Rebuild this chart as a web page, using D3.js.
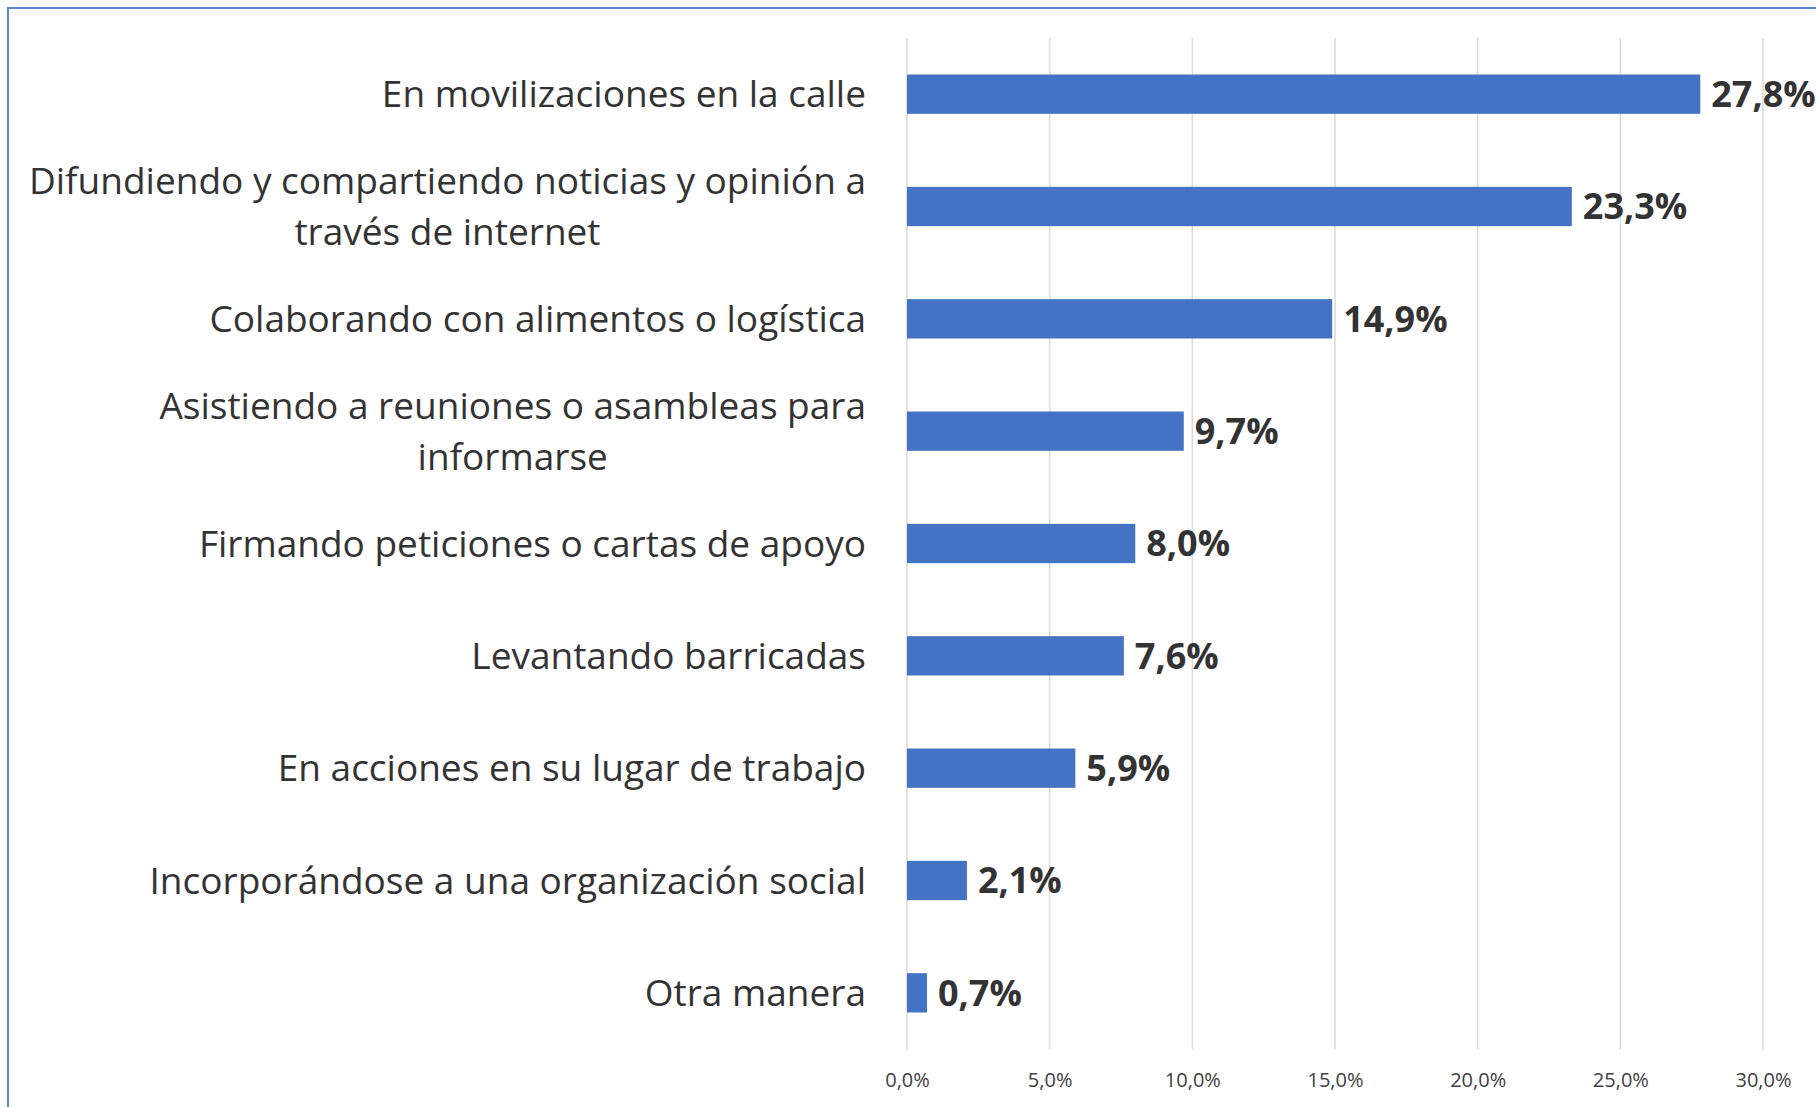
<!DOCTYPE html>
<html>
<head>
<meta charset="utf-8">
<script src="https://cdn.jsdelivr.net/npm/d3@7"></script>
<style>
  body { margin: 0; background: #fff; }
  svg { display: block; }
</style>
</head>
<body>
<div id="grafica"></div>
<script>
// datos del grafico
var categorias = [
    ["En movilizaciones en la calle"],
    ["Difundiendo y compartiendo noticias y opinión a", "través de internet"],
    ["Colaborando con alimentos o logística"],
    ["Asistiendo a reuniones o asambleas para", "informarse"],
    ["Firmando peticiones o cartas de apoyo"],
    ["Levantando barricadas"],
    ["En acciones en su lugar de trabajo"],
    ["Incorporándose a una organización social"],
    ["Otra manera"]
];
var valores = [27.8, 23.3, 14.9, 9.7, 8.0, 7.6, 5.9, 2.1, 0.7];
var ticks = [0, 5, 10, 15, 20, 25, 30];

var width = 1816,
    height = 1107;
var margin = { top: 38, right: 53, bottom: 58, left: 907 };

var svg = d3.select("#grafica")
    .append("svg")
    .attr("width", width)
    .attr("height", height);

// marco
svg.append("rect")
    .attr("x", 8)
    .attr("y", 8)
    .attr("width", width + 20)
    .attr("height", height + 20)
    .style("fill", "#fff")
    .style("stroke", "#5b8bd6")
    .style("stroke-width", 2);

var x = d3.scaleLinear()
    .domain([0, 30])
    .range([margin.left, width - margin.right]);

var y = d3.scaleBand()
    .domain(d3.range(valores.length))
    .range([margin.top, height - margin.bottom])
    .paddingInner(0.65)
    .paddingOuter(0.325);

var fmt = function(v) { return d3.format(".1f")(v).replace(".", ",") + "%"; };

// lineas de la grilla
svg.append("g")
    .selectAll("line")
    .data(ticks)
    .enter()
        .append("line")
        .attr("x1", function(d) { return x(d); })
        .attr("x2", function(d) { return x(d); })
        .attr("y1", margin.top)
        .attr("y2", height - margin.bottom)
        .style("stroke", "#d9d9d9")
        .style("stroke-width", 1.5);

// eje x
var eje = svg.append("g")
    .attr("transform", "translate(0," + (height - margin.bottom) + ")")
    .call(d3.axisBottom(x).tickValues(ticks).tickFormat(fmt).tickSize(0).tickPadding(24));
eje.select(".domain").remove();
eje.selectAll("text")
    .style("font-family", "'Open Sans', sans-serif")
    .style("font-size", "20px")
    .style("fill", "#404040");

// barras
svg.append("g")
    .selectAll("rect")
    .data(valores)
    .enter()
        .append("rect")
        .attr("x", x(0))
        .attr("y", function(d, i) { return y(i); })
        .attr("width", function(d) { return x(d) - x(0); })
        .attr("height", y.bandwidth())
        .style("fill", "#4472c4");

// etiquetas de valor
svg.append("g")
    .selectAll("text")
    .data(valores)
    .enter()
        .append("text")
        .attr("x", function(d) { return x(d) + 11; })
        .attr("y", function(d, i) { return y(i) + y.bandwidth() / 2; })
        .attr("dy", "0.36em")
        .text(fmt)
        .style("font-family", "'Open Sans', sans-serif")
        .style("font-weight", "bold")
        .style("font-size", "36px")
        .style("fill", "#333");

// etiquetas de categoria
var labelRight = 866,
    lineHeight = 51;
var etiquetas = svg.append("g")
    .selectAll("text")
    .data(categorias)
    .enter()
        .append("text")
        .style("font-family", "'Open Sans', sans-serif")
        .style("font-size", "37px")
        .style("fill", "#333");

etiquetas.each(function(lines, i) {
    var t = d3.select(this);
    var cy = y(i) + y.bandwidth() / 2;
    var tspans = t.selectAll("tspan")
        .data(lines)
        .enter()
            .append("tspan")
            .text(function(d) { return d; })
            .attr("y", function(d, j) { return cy + (j - (lines.length - 1) / 2) * lineHeight; })
            .attr("dy", "0.36em");
    if (lines.length == 1) {
        t.attr("text-anchor", "end");
        tspans.attr("x", labelRight);
    } else {
        var maxW = 0;
        tspans.each(function() { maxW = Math.max(maxW, this.getComputedTextLength()); });
        t.attr("text-anchor", "middle");
        tspans.attr("x", labelRight - maxW / 2);
    }
});
</script>
</body>
</html>
